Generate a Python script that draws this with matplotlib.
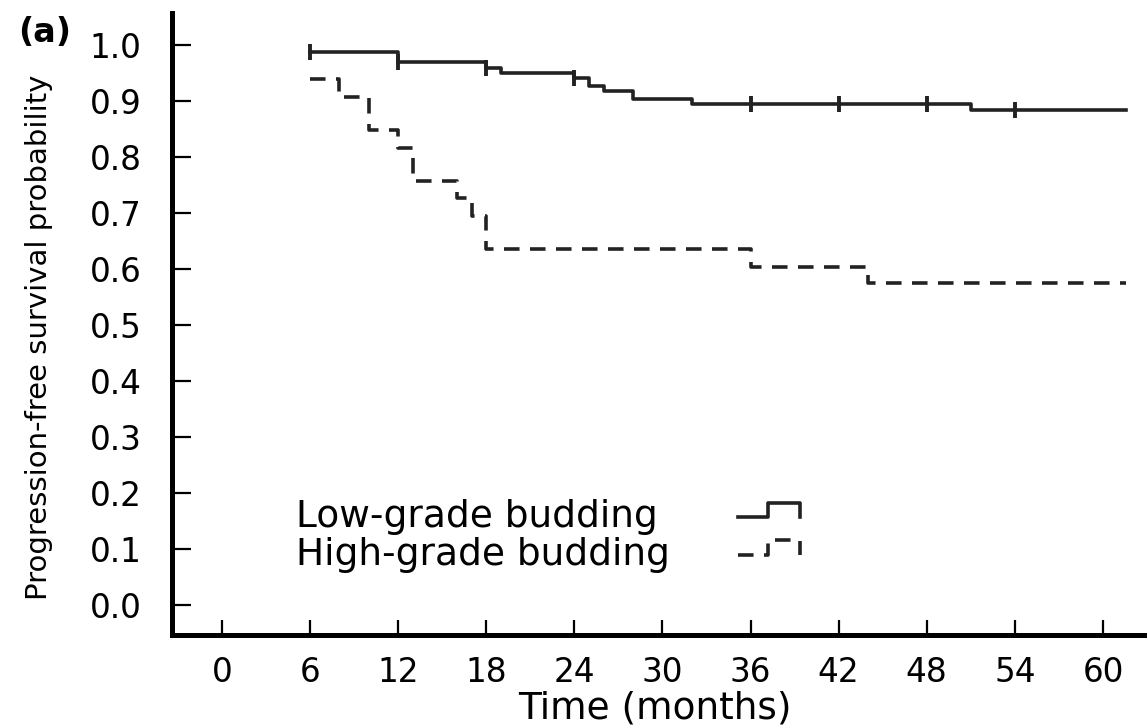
import matplotlib.pyplot as plt
import numpy as np
from matplotlib.legend_handler import HandlerBase
from matplotlib.lines import Line2D

# Kaplan-Meier steps (month of step, survival after it)
low_times = [6, 12, 18, 19, 24, 25, 26, 28, 32, 51]
low_surv = [0.988, 0.970, 0.960, 0.951, 0.941, 0.928, 0.918, 0.905, 0.896, 0.885]
low_censored = [6, 12, 18, 24, 36, 42, 48, 54]

high_times = [6, 8, 10, 12, 13, 16, 17, 18, 36, 44]
high_surv = [0.940, 0.907, 0.848, 0.817, 0.758, 0.728, 0.695, 0.636, 0.604, 0.575]

end_month = 61.6

x_ticks = [0, 6, 12, 18, 24, 30, 36, 42, 48, 54, 60]
y_ticks = [0.0, 0.1, 0.2, 0.3, 0.4, 0.5, 0.6, 0.7, 0.8, 0.9, 1.0]

labels = ['Low-grade budding', 'High-grade budding']


def step_xy(times, surv, end):
	"""
	Extends the last step up to the end of follow-up
	"""
	return list(times) + [end], list(surv) + [surv[-1]]


def surv_at(times, surv, t):
	idx = np.searchsorted(times, t, side='right') - 1
	return np.asarray(surv)[idx]


class StepHandler(HandlerBase):
	"""
	Small step-shaped legend key, like in the original figure
	"""
	def create_artists(self, legend, orig_handle, xdescent, ydescent,
	                   width, height, fontsize, trans):
		x0, y0 = -xdescent, -ydescent
		lo, hi = y0 + 0.38 * height, y0 + 0.93 * height
		xs = [x0, x0 + 0.48 * width, x0 + 0.48 * width, x0 + width, x0 + width]
		ys = [lo, lo, hi, hi, lo]
		line = Line2D(xs, ys)
		self.update_prop(line, orig_handle, legend)
		line.set_marker('None')
		line.set_transform(trans)
		return [line]


fig = plt.figure(figsize=(11.47, 7.26), dpi=100)
ax = fig.add_axes([172 / 1147, 1 - 635 / 726, (1147 - 172) / 1147, (635 - 13) / 726])

line_color = '#222222'

# Low grade - solid
lx, ly = step_xy(low_times, low_surv, end_month)
low_line, = ax.step(lx, ly, where='post', color=line_color, linewidth=2.6)
ax.plot(low_censored, surv_at(low_times, low_surv, low_censored), linestyle='none',
        marker='|', markersize=11, markeredgewidth=2.8, color=line_color)

# High grade - dashed
hx, hy = step_xy(high_times, high_surv, end_month)
high_line, = ax.step(hx, hy, where='post', color=line_color, linewidth=2.6,
                     dashes=(4.3, 2.9))

ax.set_xlim(-3.4, 63.0)
ax.set_ylim(-0.054, 1.058)
ax.set_xticks(x_ticks)
ax.set_yticks(y_ticks)
ax.set_yticklabels([f'{v:.1f}' for v in y_ticks])

ax.spines['top'].set_visible(False)
ax.spines['right'].set_visible(False)
for side in ['left', 'bottom']:
	ax.spines[side].set_linewidth(3.6)
	ax.spines[side].set_color('black')

ax.tick_params(axis='y', direction='in', length=14, width=1.6, pad=22, labelsize=23.5)
ax.tick_params(axis='x', direction='in', length=11, width=1.6, pad=15, labelsize=23.5)

ax.set_xlabel('Time (months)', fontsize=27)
ax.xaxis.set_label_coords(0.495, -0.09)
ax.set_ylabel('Progression-free survival probability', fontsize=21)
ax.yaxis.set_label_coords(-0.122, 0.479)

fig.text(18 / 1147, 1 - 32 / 726, '(a)', fontsize=24, fontweight='bold',
         ha='left', va='center')

# Legend: labels on the left, step keys in their own column on the right
leg_kw = dict(loc='upper left', frameon=False, fontsize=27, labelspacing=0.05,
              borderpad=0, borderaxespad=0)
text_leg = ax.legend([low_line, high_line], labels, bbox_to_anchor=(0.127, 0.2186),
                     handlelength=0, handletextpad=0, **leg_kw)
for h in text_leg.legend_handles:
	h.set_visible(False)
ax.add_artist(text_leg)
ax.legend([low_line, high_line], [' ', ' '], bbox_to_anchor=(0.5805, 0.2186),
          handlelength=1.65, handletextpad=0, handleheight=0.7,
          handler_map={Line2D: StepHandler()}, **leg_kw)

fig.savefig('out.png', dpi=100)
plt.close(fig)
